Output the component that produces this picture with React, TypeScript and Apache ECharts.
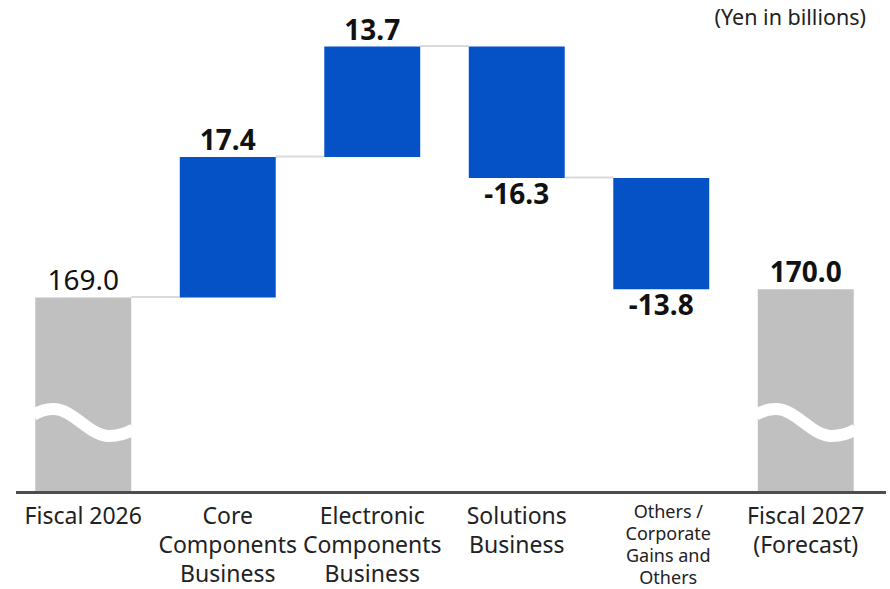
import React, { useEffect, useRef } from "react";
import * as echarts from "echarts";

const categories = [
  "Fiscal 2026",
  "Core\nComponents\nBusiness",
  "Electronic\nComponents\nBusiness",
  "Solutions\nBusiness",
  "Others /\nCorporate\nGains and\nOthers",
  "Fiscal 2027\n(Forecast)",
];
const startTotal = 169.0;
const changes = [17.4, 13.7, -16.3, -13.8];
const endTotal = 170.0;
const unitNote = "(Yen in billions)";
const axisMin = 145;
const axisMax = 205;
const breakValue = 153.5;

const FONT = "'Noto Sans', 'Open Sans', sans-serif";
const BLUE = "#0452C6";
const GRAY = "#C0C0C0";
const BAR_RATIO = 0.664;

export default function App() {
  const ref = useRef<HTMLDivElement>(null);

  useEffect(() => {
    document.body.style.margin = "0";
    if (!ref.current) return;
    const chart = echarts.init(ref.current, null, { renderer: "svg" });

    const bases: (number | string)[] = ["-"];
    const deltas: any[] = ["-"];
    const levels: number[][] = [[0, startTotal]];
    let run = startTotal;
    changes.forEach((c, i) => {
      const base = c >= 0 ? run : run + c;
      bases.push(+base.toFixed(1));
      deltas.push({
        value: Math.abs(c),
        label: {
          position: c >= 0 ? "top" : "bottom",
          distance: c >= 0 ? 3 : 0,
          formatter: c >= 0 ? c.toFixed(1) : "-" + Math.abs(c).toFixed(1),
        },
      });
      run = +(run + c).toFixed(1);
      levels.push([i + 1, run]);
    });
    bases.push("-");
    deltas.push("-");
    const totals: any[] = [
      { value: startTotal, label: { fontWeight: "normal", formatter: startTotal.toFixed(1) } },
      "-",
      "-",
      "-",
      "-",
      { value: endTotal, label: { fontWeight: "bold", formatter: endTotal.toFixed(1) } },
    ];

    const labelBase = {
      show: true,
      fontFamily: FONT,
      fontSize: 28,
      lineHeight: 30,
      color: "#111",
      fontWeight: "bold" as const,
      distance: 3,
    };

    chart.setOption({
      animation: false,
      grid: { left: 11, right: 12, top: 7, bottom: 98 },
      xAxis: {
        type: "category",
        data: categories,
        axisLine: { show: false },
        axisTick: { show: false },
        axisLabel: {
          interval: 0,
          margin: 9,
          fontFamily: FONT,
          fontSize: 23,
          lineHeight: 29,
          color: "#222",
          formatter: (v: string) => {
            if (v.startsWith("Others")) {
              return v
                .split("\n")
                .map((s) => `{s|${s}}`)
                .join("\n");
            }
            return v;
          },
          rich: {
            s: {
              fontFamily: FONT,
              fontSize: 18,
              lineHeight: 22,
              color: "#222",
              padding: [0, 0, 0, 14],
            },
          },
        },
      },
      yAxis: {
        type: "value",
        min: axisMin,
        max: axisMax,
        show: false,
        splitLine: { show: false },
      },
      graphic: [
        {
          type: "line",
          shape: { x1: 16, y1: 492.5, x2: 886, y2: 492.5 },
          style: { stroke: "#4d4d4d", lineWidth: 3 },
          z: 10,
        },
        {
          type: "text",
          x: 866,
          y: 16,
          style: {
            text: unitNote,
            fontFamily: FONT,
            fontSize: 21.5,
            fill: "#222",
            align: "right",
            verticalAlign: "middle",
          },
        },
      ],
      series: [
        {
          type: "custom",
          coordinateSystem: "cartesian2d",
          data: levels.slice(0, levels.length - 1),
          encode: { x: 0, y: 1 },
          silent: true,
          z: 1,
          renderItem: (params: any, api: any) => {
            const i = api.value(0);
            const v = api.value(1);
            const p = api.coord([i, v]);
            const band = api.size([1, 0])[0];
            const half = (band * BAR_RATIO) / 2;
            return {
              type: "line",
              shape: { x1: p[0] + half, y1: p[1] - 0.5, x2: p[0] + band - half, y2: p[1] - 0.5 },
              style: { stroke: "#d9d9d9", lineWidth: 2 },
            };
          },
        },
        {
          type: "bar",
          stack: "w",
          data: bases,
          barWidth: BAR_RATIO * 100 + "%",
          barGap: "-100%",
          itemStyle: { color: "rgba(0,0,0,0)" },
          silent: true,
          z: 2,
        },
        {
          type: "bar",
          stack: "w",
          data: deltas,
          barWidth: BAR_RATIO * 100 + "%",
          barGap: "-100%",
          itemStyle: { color: BLUE },
          label: labelBase,
          z: 2,
        },
        {
          type: "bar",
          data: totals,
          barWidth: BAR_RATIO * 100 + "%",
          barGap: "-100%",
          itemStyle: { color: GRAY },
          label: { ...labelBase, position: "top" },
          z: 2,
        },
        {
          type: "custom",
          coordinateSystem: "cartesian2d",
          data: [
            [0, breakValue],
            [5, breakValue],
          ],
          encode: { x: 0, y: 1 },
          silent: true,
          z: 5,
          renderItem: (params: any, api: any) => {
            const i = api.value(0);
            const v = api.value(1);
            const p = api.coord([i, v]);
            const band = api.size([1, 0])[0];
            const w = band * BAR_RATIO;
            const x0 = p[0] - w / 2;
            const yc = p[1];
            const s = w / 96;
            const X = (dx: number) => (x0 + dx * s).toFixed(2);
            const Y = (dy: number) => (yc + dy).toFixed(2);
            const d =
              `M${X(-2)},${Y(-7.5)} ` +
              `C${X(6)},${Y(-12.5)} ${X(12)},${Y(-13.5)} ${X(18)},${Y(-13.5)} ` +
              `C${X(38.4)},${Y(-13.5)} ${X(53.6)},${Y(13.5)} ${X(74)},${Y(13.5)} ` +
              `C${X(81)},${Y(13.5)} ${X(90)},${Y(11.5)} ${X(98)},${Y(7)}`;
            return {
              type: "path",
              shape: { pathData: d },
              style: { stroke: "#ffffff", lineWidth: 12, fill: "none" },
            };
          },
        },
      ],
    });

    return () => chart.dispose();
  }, []);

  return <div ref={ref} style={{ width: 890, height: 589 }} />;
}
